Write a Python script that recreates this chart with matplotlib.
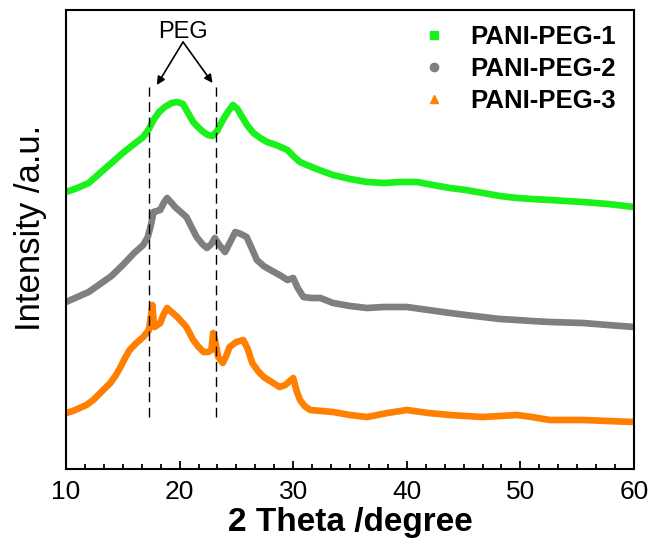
import matplotlib
matplotlib.use("Agg")
import matplotlib.pyplot as plt
from matplotlib.lines import Line2D
from matplotlib.ticker import MultipleLocator, AutoMinorLocator

plt.rcParams['font.family'] = ['Liberation Sans', 'DejaVu Sans']

# Data (intensity in arbitrary units)
x1 = [10, 11, 12, 13, 14, 15, 16, 16.8, 17.3, 17.7, 18.2, 18.7, 19.3, 19.8, 20.3, 20.7,
      21.2, 21.7, 22.1, 22.5, 22.9, 23.3, 23.8, 24.3, 24.7, 25.1, 25.5, 26.0, 26.5,
      27.1, 27.7, 28.5, 29.5, 30.0, 30.6, 31.2, 32.3, 33.5, 35, 36.5, 38, 39.4, 40.9,
      42.3, 43.8, 45.2, 46.7, 48.2, 49.7, 51, 52.6, 54, 55.5, 57.7, 60]
y1 = [277, 281, 286, 296, 306, 316, 325, 332, 340, 349, 357, 362, 366, 367, 365, 357,
      347, 341, 337, 334, 333, 338, 349, 358, 364, 360, 352, 343, 336,
      331, 327, 324, 319, 313, 307, 304, 299, 294, 290, 287, 286, 287, 287,
      284, 281, 279, 276, 273, 271, 270, 269, 268, 267, 265, 262]

x2 = [10, 11, 12, 13, 14, 15, 16, 16.8, 17.2, 17.5, 17.7, 18.0, 18.3, 18.6, 18.9, 19.3,
      19.6, 20.1, 20.6, 21.0, 21.5, 22.0, 22.4, 22.8, 23.1, 23.5, 24.0, 24.5, 24.9,
      25.4, 25.9, 26.3, 26.8, 27.4, 28.0, 28.8, 29.5, 30.0, 30.4, 30.9, 31.6, 32.4,
      33.5, 35, 36.5, 38, 40, 41.9, 43.8, 45.2, 46.7, 48.2, 49.7, 51, 52.6, 54, 55.5,
      57.7, 60]
y2 = [167, 172, 177, 185, 193, 204, 216, 224, 232, 245, 257, 258, 259, 266, 271, 266,
      262, 257, 252, 243, 232, 225, 221, 225, 231, 224, 217, 228, 237,
      235, 232, 222, 209, 203, 199, 194, 189, 191, 181, 172, 171, 171,
      166, 163, 161, 162, 162, 159, 156, 154, 152, 150, 149, 148, 147, 146.5, 146,
      144, 142]

x3 = [10, 10.6, 11.2, 11.8, 12.4, 13.1, 13.9, 14.4, 14.8, 15.2, 15.6, 16.2, 16.8, 17.3,
      17.5, 17.6, 17.7, 17.8, 18.3, 18.6, 18.9, 19.3, 19.8, 20.2, 20.6, 21.2, 21.6,
      22.1, 22.5, 22.8, 22.95, 23.1, 23.4, 23.8, 24.1, 24.4, 25.0, 25.6, 26.0, 26.4,
      26.9, 27.4, 28.1, 28.8, 29.3, 29.7, 30.0, 30.3, 30.6, 31.0, 31.5, 32.5, 33.5,
      35, 36.5, 38.3, 40, 41.9, 43.8, 45.2, 46.7, 48.2, 49.7, 51, 52.6, 54, 55.5,
      57.7, 60]
y3 = [56, 58, 61, 64, 69, 77, 86, 94, 102, 111, 119, 126, 132, 139,
      155, 164, 150, 142, 146, 155, 161, 157, 152, 147, 142, 129, 123,
      117, 117, 119, 136, 130, 112, 106, 113, 122, 127, 129, 120, 106,
      98, 92, 87, 82, 84, 88, 91, 78, 69, 63, 59, 58, 57,
      54, 52, 56, 59, 56, 54, 53, 52, 53, 54, 52, 49, 49, 49,
      48, 47]

labels = ['PANI-PEG-1', 'PANI-PEG-2', 'PANI-PEG-3']
colors = ['#1AF01A', '#7F7F7F', '#FF8000']
markers = ['s', 'o', '^']

peg_x = [17.3, 23.2]
dash_y = [52, 382]

fig = plt.figure(figsize=(6.52, 5.45), dpi=100)
ax = fig.add_axes([66/652, 76/545, 568/652, 459/545])

for xs, ys, c in zip([x1, x2, x3], [y1, y2, y3], colors):
    ax.plot(xs, ys, color=c, lw=4.8, solid_capstyle='round', solid_joinstyle='round')

for px in peg_x:
    ax.plot([px, px], dash_y, color='black', lw=1, ls=(0, (7, 4)))

ax.text(20.3, 437, 'PEG', ha='center', va='center', fontsize=17)
for tx, ty in [(18.0, 384), (22.9, 386)]:
    ax.annotate('', xy=(tx, ty), xytext=(20.3, 427),
                arrowprops=dict(arrowstyle='-|>', color='black', lw=1.2,
                                mutation_scale=12, shrinkA=0, shrinkB=0))

ax.set_xlim(10, 60)
ax.set_ylim(0, 459)
ax.xaxis.set_major_locator(MultipleLocator(10))
ax.xaxis.set_minor_locator(AutoMinorLocator(6))
ax.tick_params(axis='x', which='major', direction='in', length=6, width=1.3,
               labelsize=19, pad=8)
ax.tick_params(axis='x', which='minor', direction='in', length=3.5, width=1.3)
ax.set_yticks([])
for s in ax.spines.values():
    s.set_linewidth(1.5)

ax.set_xlabel('2 Theta /degree', fontsize=24, fontweight='bold', labelpad=2)
ax.set_ylabel('Intensity /a.u.', fontsize=25)
ax.yaxis.set_label_coords(-0.033, 0.525)

handles = [Line2D([], [], ls='none', marker=m, color=c, markersize=6)
           for m, c in zip(markers, colors)]
leg = ax.legend(handles, labels, loc='upper right', bbox_to_anchor=(0.99, 0.995),
                frameon=False, prop={'size': 18.5, 'weight': 'bold'},
                handlelength=1.0, handletextpad=0.9, labelspacing=0.3, borderpad=0)

fig.savefig('out.png', dpi=100)
